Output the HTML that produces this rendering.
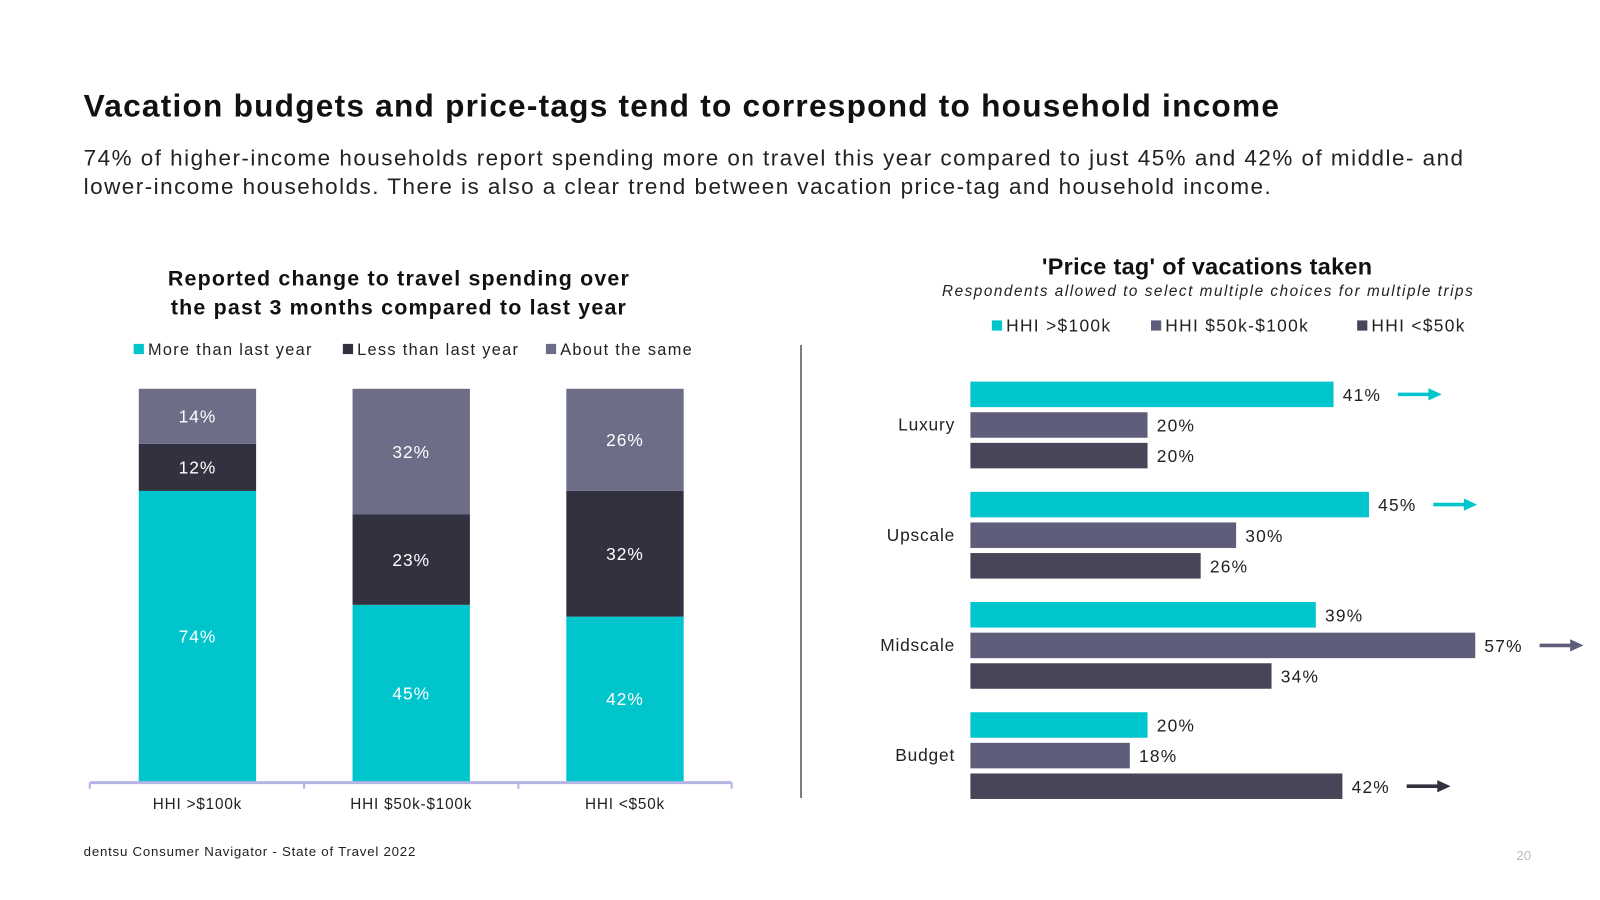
<!DOCTYPE html>
<html><head><meta charset="utf-8"><style>
html,body{margin:0;padding:0;background:#fff;width:1600px;height:900px;overflow:hidden}
#wrap{position:absolute;left:0;top:0;width:1568px;height:882px;transform:scale(1.0204);transform-origin:0 0;font-family:"Liberation Sans",sans-serif;color:#1a1a1a}
.t{position:absolute;white-space:nowrap}
</style></head><body>
<div id="wrap">
<div class="t" style="left:82px;top:86px;font-size:31px;font-weight:bold;color:#111;letter-spacing:1.2px">Vacation budgets and price-tags tend to correspond to household income</div>
<div class="t" style="left:82px;top:141px;font-size:22px;line-height:28px;color:#222;letter-spacing:1.45px">74% of higher-income households report spending more on travel this year compared to just 45% and 42% of middle- and<br>lower-income households. There is also a clear trend between vacation price-tag and household income.</div>
<div class="t" style="left:82px;top:827px;font-size:13px;color:#222;letter-spacing:0.75px">dentsu Consumer Navigator - State of Travel 2022</div>
<div class="t" style="left:1486px;top:831px;font-size:13px;color:#bbb">20</div>
<svg id="chart" width="1568" height="882" style="position:absolute;left:0;top:0"></svg>
</div>
<script>
const leftCats=["HHI >$100k","HHI $50k-$100k","HHI <$50k"];
const moreVals=[74,45,42];
const lessVals=[12,23,32];
const sameVals=[14,32,26];
const leftSeriesNames=["More than last year","Less than last year","About the same"];
const rightCats=["Luxury","Upscale","Midscale","Budget"];
const hiVals=[41,45,39,20];
const midVals=[20,30,57,18];
const lowVals=[20,26,34,42];
const rightSeriesNames=["HHI >$100k","HHI $50k-$100k","HHI <$50k"];
const arrowFlags=[[1,0,0],[1,0,0],[0,1,0],[0,0,1]];

const NS="http://www.w3.org/2000/svg";
const svg=document.getElementById("chart");
function mk(tag,attrs,parent){const e=document.createElementNS(NS,tag);for(const k in attrs)e.setAttribute(k,attrs[k]);(parent||svg).appendChild(e);return e;}
function txt(x,y,s,attrs){const e=mk("text",Object.assign({x:x,y:y,"font-family":"Liberation Sans, sans-serif"},attrs));e.textContent=s;return e;}

// Left chart
const t1=txt(391,280,"Reported change to travel spending over",{"font-size":21,"font-weight":"bold","text-anchor":"middle",fill:"#111","letter-spacing":"1.15"});


const t2=txt(391,308,"the past 3 months compared to last year",{"font-size":21,"font-weight":"bold","text-anchor":"middle",fill:"#111","letter-spacing":"1.15"});


const leftColors=["#00c5cc","#32313f","#6d6d87"];
const legX=[131,336,535];
leftSeriesNames.forEach((n,i)=>{
  const r=mk("rect",{x:legX[i],y:337,width:10,height:10,fill:leftColors[i]});
  
  
  const t=txt(legX[i]+14,348,n,{"font-size":16,fill:"#222","letter-spacing":"1.3"});
  
  
});
const yBase=766, yTop=381;
function ly(v){return yBase-(v/100)*(yBase-yTop);}
const bx0=136,bstep=209.5,bw=115;
leftCats.forEach((c,i)=>{
  const x=bx0+i*bstep;
  const segs=[moreVals[i],lessVals[i],sameVals[i]];
  let cum=0;
  segs.forEach((v,j)=>{
    const y1=ly(cum+v),y0=ly(cum);
    const r=mk("rect",{x:x,y:y1,width:bw,height:y0-y1,fill:leftColors[j]});
    
    
    const t=txt(x+bw/2,(y1+y0)/2+6,v+"%",{"font-size":17,"text-anchor":"middle",fill:"#fff","letter-spacing":"1"});
    
    
    cum+=v;
  });
  const t=txt(x+bw/2,793,c,{"font-size":15,"text-anchor":"middle",fill:"#222","letter-spacing":"0.8"});
  
  
});
const ax=mk("line",{x1:88,y1:767,x2:717,y2:767,stroke:"#b4b4e6","stroke-width":3});


[88,298,508,717].forEach(x=>{
  const tk=mk("line",{x1:x,y1:767,x2:x,y2:773,stroke:"#b4b4e6","stroke-width":2});
  
  
});
const dv=mk("line",{x1:785,y1:338,x2:785,y2:782,stroke:"#555566","stroke-width":1.5});



// Right chart
const rt=txt(1183,269,"'Price tag' of vacations taken",{"font-size":23,"font-weight":"bold","text-anchor":"middle",fill:"#111","letter-spacing":"0.3"});


const rs=txt(1184,290,"Respondents allowed to select multiple choices for multiple trips",{"font-size":15,"font-style":"italic","text-anchor":"middle",fill:"#222","letter-spacing":"1.5"});


const rightColors=["#00c5cc","#5f5e7a","#474659"];
const arrowColors=["#00c5cc","#5f5e7a","#32313f"];
const rlegX=[972,1128,1330];
rightSeriesNames.forEach((n,i)=>{
  const r=mk("rect",{x:rlegX[i],y:314,width:10,height:10,fill:rightColors[i]});
  
  
  const t=txt(rlegX[i]+14,325,n,{"font-size":17,fill:"#222","letter-spacing":"1.3"});
  
  
});
const x0=951, pxPer=8.68;
function rx(v){return x0+v*pxPer;}
const series=[hiVals,midVals,lowVals];
rightCats.forEach((c,i)=>{
  const gy=374+i*108;
  const cl=txt(936,gy+48,c,{"font-size":17,"text-anchor":"end",fill:"#222","letter-spacing":"0.8"});
  
  
  series.forEach((s,j)=>{
    const y=gy+j*30, v=s[i];
    const r=mk("rect",{x:x0,y:y,width:rx(v)-x0,height:25,fill:rightColors[j]});
    
    
    const t=txt(rx(v)+9,y+19,v+"%",{"font-size":17,fill:"#222","letter-spacing":"1.2"});
    
    
    if(arrowFlags[i][j]){
      const ax0=rx(v)+63, ay=y+12.5;
      const g=mk("g",{});
      
      
      mk("line",{x1:ax0,y1:ay,x2:ax0+32,y2:ay,stroke:arrowColors[j],"stroke-width":3.5},g);
      mk("polygon",{points:(ax0+30)+","+(ay-6)+" "+(ax0+43)+","+ay+" "+(ax0+30)+","+(ay+6),fill:arrowColors[j]},g);
    }
  });
});
</script>
</body></html>
